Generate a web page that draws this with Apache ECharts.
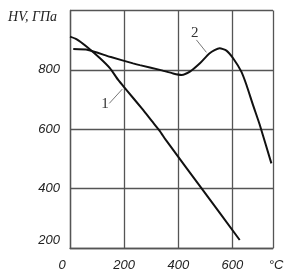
<!DOCTYPE html>
<html><head><meta charset="utf-8">
<script src="https://cdn.jsdelivr.net/npm/echarts@6/dist/echarts.min.js"></script>
<style>html,body{margin:0;padding:0;background:#fff}#c{width:301px;height:276px}</style>
</head><body><div id="c"></div>
<script>
const curve1X = [0, 25, 62, 111, 148, 178, 209, 270, 302, 332, 354, 491, 627];
const curve1Y = [912, 903, 878, 839, 805, 766, 732, 665, 628, 594, 564, 395, 227];
const curve2X = [12, 67, 148, 233, 258, 332, 381, 412, 443, 480, 516, 553, 578, 602, 633, 652, 676, 701, 744];
const curve2Y = [870, 867, 844, 822, 816, 800, 788, 783, 794, 822, 856, 873, 865, 840, 794, 749, 682, 615, 485];
const xTickValues = [0, 200, 400, 600];
const xUnitLabel = '°C';
const yTickValues = [200, 400, 600, 800];
const yUnitLabel = 'HV, ГПа';
const curveNames = ['1', '2'];
// annotation anchors (data units): label position, leader start, leader end
const note1 = {label: [129, 684], from: [145, 687], to: [193, 735]};
const note2 = {label: [461, 923], from: [467, 901], to: [504, 859]};

const X_MAX = 750, Y_MIN = 200, Y_MAX = 1000;
const gridColor = '#555';
const sansItalic = {fontFamily: 'Liberation Sans', fontStyle: 'italic', fontSize: 13, color: '#222'};

function pairs(xs, ys) { return xs.map((x, i) => [x, ys[i]]); }

function annotated(name, note) {
  return {
    markLine: {
      silent: true, symbol: 'none', animation: false,
      lineStyle: {color: '#777', width: 1, type: 'solid'},
      label: {show: false},
      data: [[{coord: note.from}, {coord: note.to}]]
    },
    markPoint: {
      silent: true, symbol: 'circle', symbolSize: 0, animation: false,
      label: {show: true, position: 'inside', formatter: name,
        fontFamily: 'Liberation Serif', fontSize: 15, color: '#333'},
      data: [{coord: note.label}]
    }
  };
}

const chart = echarts.init(document.getElementById('c'), null, {renderer: 'canvas'});
chart.setOption({
  animation: false,
  backgroundColor: '#fff',
  grid: {left: 70, right: 28, top: 10.5, bottom: 28, containLabel: false},
  xAxis: {
    type: 'value', min: 0, max: X_MAX, interval: 200,
    axisLine: {show: true, lineStyle: {color: gridColor, width: 1.3}},
    axisTick: {show: false},
    splitLine: {show: true, lineStyle: {color: gridColor, width: 1.3}},
    axisLabel: {
      show: true, margin: 11, showMinLabel: true, showMaxLabel: true, hideOverlap: false,
      ...sansItalic,
      formatter: v => {
        if (v === X_MAX) return '{u|' + xUnitLabel + '}';
        const i = xTickValues.indexOf(v);
        if (i < 0) return '';
        return v === 0 ? '{z|' + String(v) + '}' : String(v);
      },
      rich: {
        u: {...sansItalic, padding: [0, 0, 0, 6]},
        z: {...sansItalic, padding: [0, 16, 0, 0]}
      }
    }
  },
  yAxis: {
    type: 'value', min: Y_MIN, max: Y_MAX, interval: 200,
    axisLine: {show: true, lineStyle: {color: gridColor, width: 1.3}},
    axisTick: {show: false},
    splitLine: {show: true, lineStyle: {color: gridColor, width: 1.3}},
    axisLabel: {
      show: true, margin: 10, showMinLabel: true, showMaxLabel: true, hideOverlap: false,
      ...sansItalic,
      formatter: v => {
        if (v === Y_MAX) return '{h|' + yUnitLabel + '}';
        if (yTickValues.indexOf(v) < 0) return '';
        return v === Y_MIN ? '{b|' + String(v) + '}' : String(v);
      },
      rich: {
        h: {fontFamily: 'Liberation Serif', fontStyle: 'italic', fontSize: 14, color: '#222', padding: [14, 3, 0, 0]},
        b: {...sansItalic, padding: [0, 0, 16, 0]}
      }
    }
  },
  series: [
    Object.assign({
      name: curveNames[0], type: 'line', data: pairs(curve1X, curve1Y),
      smooth: 0.2, showSymbol: false, symbol: 'none',
      lineStyle: {color: '#111', width: 2}
    }, annotated(curveNames[0], note1)),
    Object.assign({
      name: curveNames[1], type: 'line', data: pairs(curve2X, curve2Y),
      smooth: 0.2, showSymbol: false, symbol: 'none',
      lineStyle: {color: '#111', width: 2}
    }, annotated(curveNames[1], note2))
  ]
});
</script></body></html>
